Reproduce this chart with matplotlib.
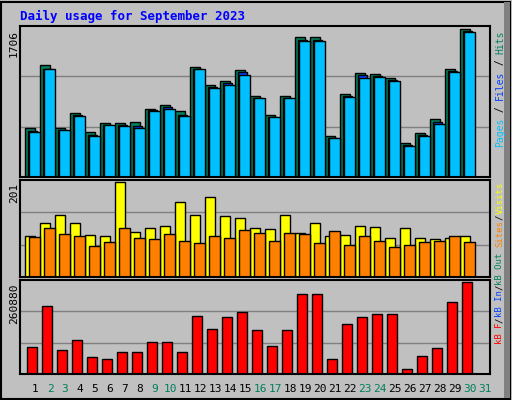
import matplotlib.pyplot as plt
import numpy as np

days = list(range(1, 32))
weekend = [2, 3, 9, 10, 16, 17, 23, 24, 30, 31]

hits = [564, 1285, 564, 736, 514, 619, 619, 630, 783, 830, 760, 1273, 1063, 1110, 1238, 935, 713, 935, 1613, 1613, 467, 958, 1203, 1192, 1145, 397, 502, 666, 1250, 1706, 0]
files = [534, 1250, 540, 712, 480, 600, 595, 590, 770, 805, 720, 1250, 1040, 1080, 1205, 915, 695, 910, 1580, 1580, 450, 935, 1170, 1165, 1120, 370, 480, 630, 1225, 1680, 0]
pages = [520, 1250, 540, 700, 467, 596, 584, 560, 760, 783, 701, 1250, 1028, 1063, 1180, 911, 690, 911, 1566, 1566, 444, 922, 1145, 1157, 1110, 362, 467, 607, 1215, 1671, 0]

visits = [86, 115, 130, 115, 88, 86, 201, 95, 104, 108, 159, 130, 170, 128, 124, 104, 102, 130, 93, 115, 86, 88, 108, 106, 82, 104, 82, 80, 82, 86, 0]
sites = [84, 104, 90, 86, 66, 73, 104, 82, 80, 90, 77, 71, 86, 82, 99, 93, 77, 93, 90, 71, 97, 68, 86, 77, 64, 68, 73, 77, 86, 73, 0]

kbytes = [77090, 192360, 68200, 94880, 47440, 41510, 62260, 62260, 91910, 91910, 62260, 163000, 127420, 160050, 174870, 124450, 80060, 124450, 225300, 225300, 41510, 142250, 160050, 168940, 168940, 14820, 50410, 74130, 204540, 260880, 0]

W, H = 512, 400
fig = plt.figure(figsize=(W / 100, H / 100), dpi=100, facecolor='#c0c0c0')
mono = 'DejaVu Sans Mono'

def px_ax(x0, y0, x1, y1):
    return fig.add_axes([x0 / W, 1 - y1 / H, (x1 - x0) / W, (y1 - y0) / H])

def style(ax, ymax):
    top = ymax * 1.02
    ax.set_facecolor('#c0c0c0')
    ax.set_xlim(0, 31.33)
    ax.set_ylim(0, top)
    ax.set_xticks([])
    ax.set_yticks([])
    for s in ax.spines.values():
        s.set_linewidth(1.5)
        s.set_color('black')
    for f in (1 / 3, 2 / 3):
        ax.axhline(top * f, color='#808080', lw=1, zorder=0)

d = np.array(days)
ax1 = px_ax(20, 26, 490, 177)
style(ax1, max(hits))
ax1.bar(d - 0.67, hits, width=0.67, align='edge', color='#00805c', edgecolor='black', lw=1)
ax1.bar(d - 0.47, files, width=0.6, align='edge', color='#0040ff', edgecolor='black', lw=1)
ax1.bar(d - 0.37, pages, width=0.67, align='edge', color='#00c0ff', edgecolor='black', lw=1)

ax2 = px_ax(20, 180, 490, 277)
style(ax2, max(visits))
ax2.bar(d - 0.67, visits, width=0.67, align='edge', color='#ffff00', edgecolor='black', lw=1)
ax2.bar(d - 0.37, sites, width=0.67, align='edge', color='#ff8000', edgecolor='black', lw=1)

ax3 = px_ax(20, 280, 490, 374)
style(ax3, max(kbytes))
ax3.bar(d - 0.55, kbytes, width=0.67, align='edge', color='#ff0000', edgecolor='black', lw=1)

def ftext(x, y, s, **kw):
    fig.text(x / W, 1 - y / H, s, family=mono, **kw)

ftext(20, 16, 'Daily usage for September 2023', color='#0000ff', fontsize=9, fontweight='bold', va='center')
ftext(14, 30, str(max(hits)), rotation=90, fontsize=8, va='top', ha='center')
ftext(14, 183, str(max(visits)), rotation=90, fontsize=8, va='top', ha='center')
ftext(14, 283, str(max(kbytes)), rotation=90, fontsize=8, va='top', ha='center')

for day in days:
    c = '#00805c' if day in weekend else 'black'
    ftext(35 + (day - 1) * 15, 389, str(day), color=c, fontsize=8, ha='center', va='center')

def label_run(parts, y0, size):
    cw = size * 100 / 72 * 0.6
    y = y0
    for s, c in parts:
        ftext(500, y, s, color=c, fontsize=size, rotation=90, ha='center', va='top')
        y += len(s) * cw

label_run([('Hits', '#00805c'), (' / ', 'black'), ('Files', '#0040ff'), (' / ', 'black'),
           ('Pages', '#00c0ff')], 30, 7)
label_run([('Visits', '#ffff00'), ('/', 'black'), ('Sites', '#ff8000'), (' ', 'black'),
           ('kB Out', '#00805c'), ('/', 'black'), ('kB In', '#0040ff'), ('/', 'black'),
           ('kB F', '#ff0000')], 182, 6.5)

fig.patches.append(plt.Rectangle((1 / W, 1 / H), 1 - 3 / W, 1 - 3 / H, transform=fig.transFigure,
                                 fill=False, edgecolor='black', lw=1.5))
fig.patches.append(plt.Rectangle((1 - 8 / W, 2 / H), 6 / W, 1 - 4 / H, transform=fig.transFigure,
                                 color='#808080', lw=0))
fig.savefig('out.png', dpi=100, facecolor=fig.get_facecolor())
